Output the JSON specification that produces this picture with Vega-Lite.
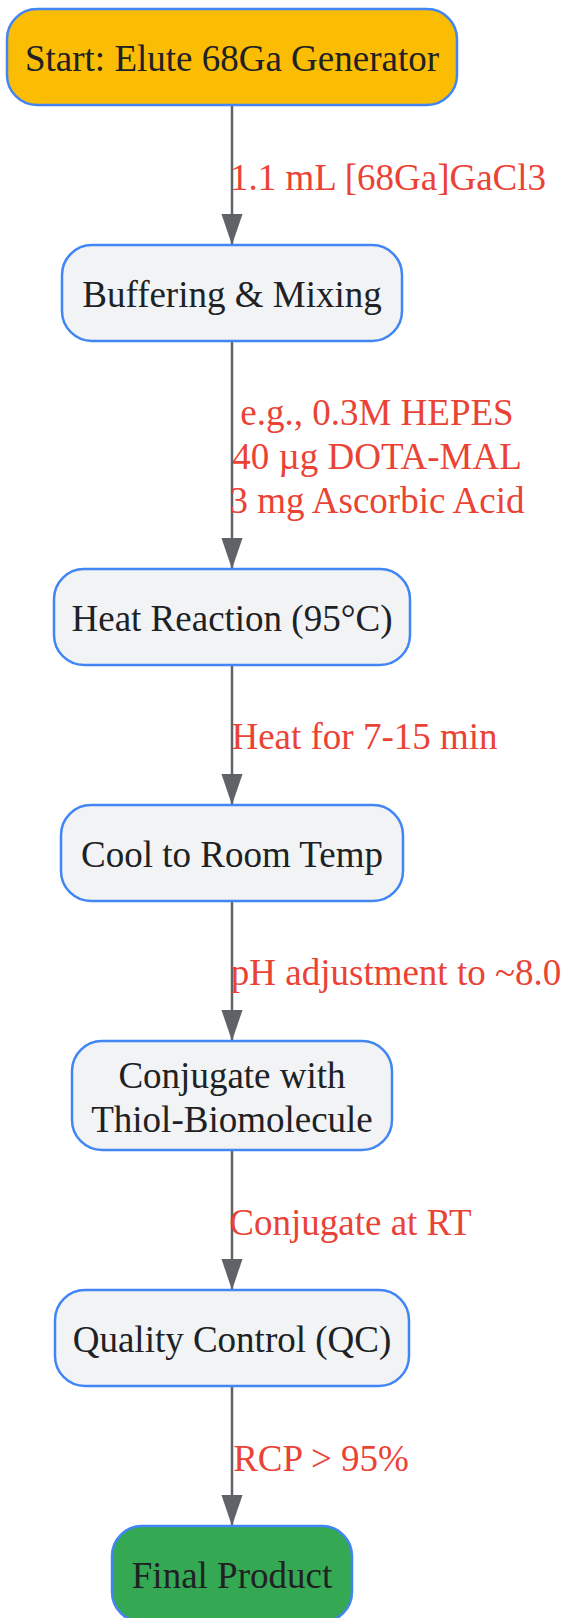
{
  "$schema": "https://vega.github.io/schema/vega-lite/v6.json",
  "width": 566,
  "height": 1618,
  "autosize": {"type": "none"},
  "padding": 0,
  "background": "white",
  "config": {"view": {"stroke": null}},
  "datasets": {
    "nodes": [
      {"label": "Start: Elute 68Ga Generator", "kind": "start", "x1": 7, "x2": 457, "y1": 9, "y2": 105},
      {"label": "Buffering & Mixing", "kind": "step", "x1": 62, "x2": 402, "y1": 245, "y2": 341},
      {"label": "Heat Reaction (95°C)", "kind": "step", "x1": 54, "x2": 410, "y1": 569, "y2": 665},
      {"label": "Cool to Room Temp", "kind": "step", "x1": 61, "x2": 403, "y1": 805, "y2": 901},
      {"label": "Conjugate with\nThiol-Biomolecule", "kind": "step", "x1": 72, "x2": 392, "y1": 1041, "y2": 1150},
      {"label": "Quality Control (QC)", "kind": "step", "x1": 55, "x2": 409, "y1": 1290, "y2": 1386},
      {"label": "Final Product", "kind": "end", "x1": 112, "x2": 352, "y1": 1526, "y2": 1622}
    ],
    "edges": [
      {"x": 232, "from": 105, "to": 245},
      {"x": 232, "from": 341, "to": 569},
      {"x": 232, "from": 665, "to": 805},
      {"x": 232, "from": 901, "to": 1041},
      {"x": 232, "from": 1150, "to": 1290},
      {"x": 232, "from": 1386, "to": 1526}
    ],
    "edgeLabels": [
      {"text": "1.1 mL [68Ga]GaCl3", "x": 388, "y": 179},
      {"text": "e.g., 0.3M HEPES\n40 µg DOTA-MAL\n3 mg Ascorbic Acid", "x": 377, "y": 458},
      {"text": "Heat for 7-15 min", "x": 364.5, "y": 738},
      {"text": "pH adjustment to ~8.0", "x": 396, "y": 974},
      {"text": "Conjugate at RT", "x": 350.5, "y": 1224},
      {"text": "RCP > 95%", "x": 321, "y": 1460}
    ]
  },
  "layer": [
    {
      "data": {"name": "edges"},
      "mark": {"type": "rule", "color": "#5F6368", "strokeWidth": 2.5},
      "encoding": {
        "x": {"field": "x", "type": "quantitative", "scale": {"domain": [0, 566], "nice": false, "zero": false}, "axis": null},
        "y": {"field": "from", "type": "quantitative", "scale": {"domain": [0, 1618], "nice": false, "zero": false, "reverse": true}, "axis": null},
        "y2": {"field": "to"}
      }
    },
    {
      "data": {"name": "edges"},
      "mark": {"type": "point", "shape": "M-0.68,-2L0.68,-2L0,0Z", "filled": true, "color": "#5F6368", "opacity": 1, "size": 961, "strokeWidth": 0},
      "encoding": {
        "x": {"field": "x", "type": "quantitative", "scale": {"domain": [0, 566], "nice": false, "zero": false}, "axis": null},
        "y": {"field": "to", "type": "quantitative", "scale": {"domain": [0, 1618], "nice": false, "zero": false, "reverse": true}, "axis": null}
      }
    },
    {
      "data": {"name": "edgeLabels"},
      "transform": [{"calculate": "datum.y - (length(split(datum.text, '\\n')) - 1) * 22", "as": "ty"}],
      "mark": {"type": "text", "font": "Liberation Serif", "fontSize": 37, "color": "#EA4335", "align": "center", "baseline": "middle", "lineBreak": "\n", "lineHeight": 44},
      "encoding": {
        "x": {"field": "x", "type": "quantitative", "scale": {"domain": [0, 566], "nice": false, "zero": false}, "axis": null},
        "y": {"field": "ty", "type": "quantitative", "scale": {"domain": [0, 1618], "nice": false, "zero": false, "reverse": true}, "axis": null},
        "text": {"field": "text"}
      }
    },
    {
      "data": {"name": "nodes"},
      "mark": {"type": "rect", "cornerRadius": 30, "stroke": "#4285F4", "strokeWidth": 2.5},
      "encoding": {
        "x": {"field": "x1", "type": "quantitative", "scale": {"domain": [0, 566], "nice": false, "zero": false}, "axis": null},
        "x2": {"field": "x2"},
        "y": {"field": "y1", "type": "quantitative", "scale": {"domain": [0, 1618], "nice": false, "zero": false, "reverse": true}, "axis": null},
        "y2": {"field": "y2"},
        "fill": {"field": "kind", "type": "nominal", "scale": {"domain": ["start", "step", "end"], "range": ["#FBBC04", "#F1F3F4", "#34A853"]}, "legend": null}
      }
    },
    {
      "data": {"name": "nodes"},
      "transform": [
        {"calculate": "(datum.x1 + datum.x2) / 2", "as": "cx"},
        {"calculate": "(datum.y1 + datum.y2) / 2 + 3 - (length(split(datum.label, '\\n')) - 1) * 22", "as": "cy"}
      ],
      "mark": {"type": "text", "font": "Liberation Serif", "fontSize": 37, "color": "#202124", "align": "center", "baseline": "middle", "lineBreak": "\n", "lineHeight": 44},
      "encoding": {
        "x": {"field": "cx", "type": "quantitative", "scale": {"domain": [0, 566], "nice": false, "zero": false}, "axis": null},
        "y": {"field": "cy", "type": "quantitative", "scale": {"domain": [0, 1618], "nice": false, "zero": false, "reverse": true}, "axis": null},
        "text": {"field": "label"}
      }
    }
  ]
}
